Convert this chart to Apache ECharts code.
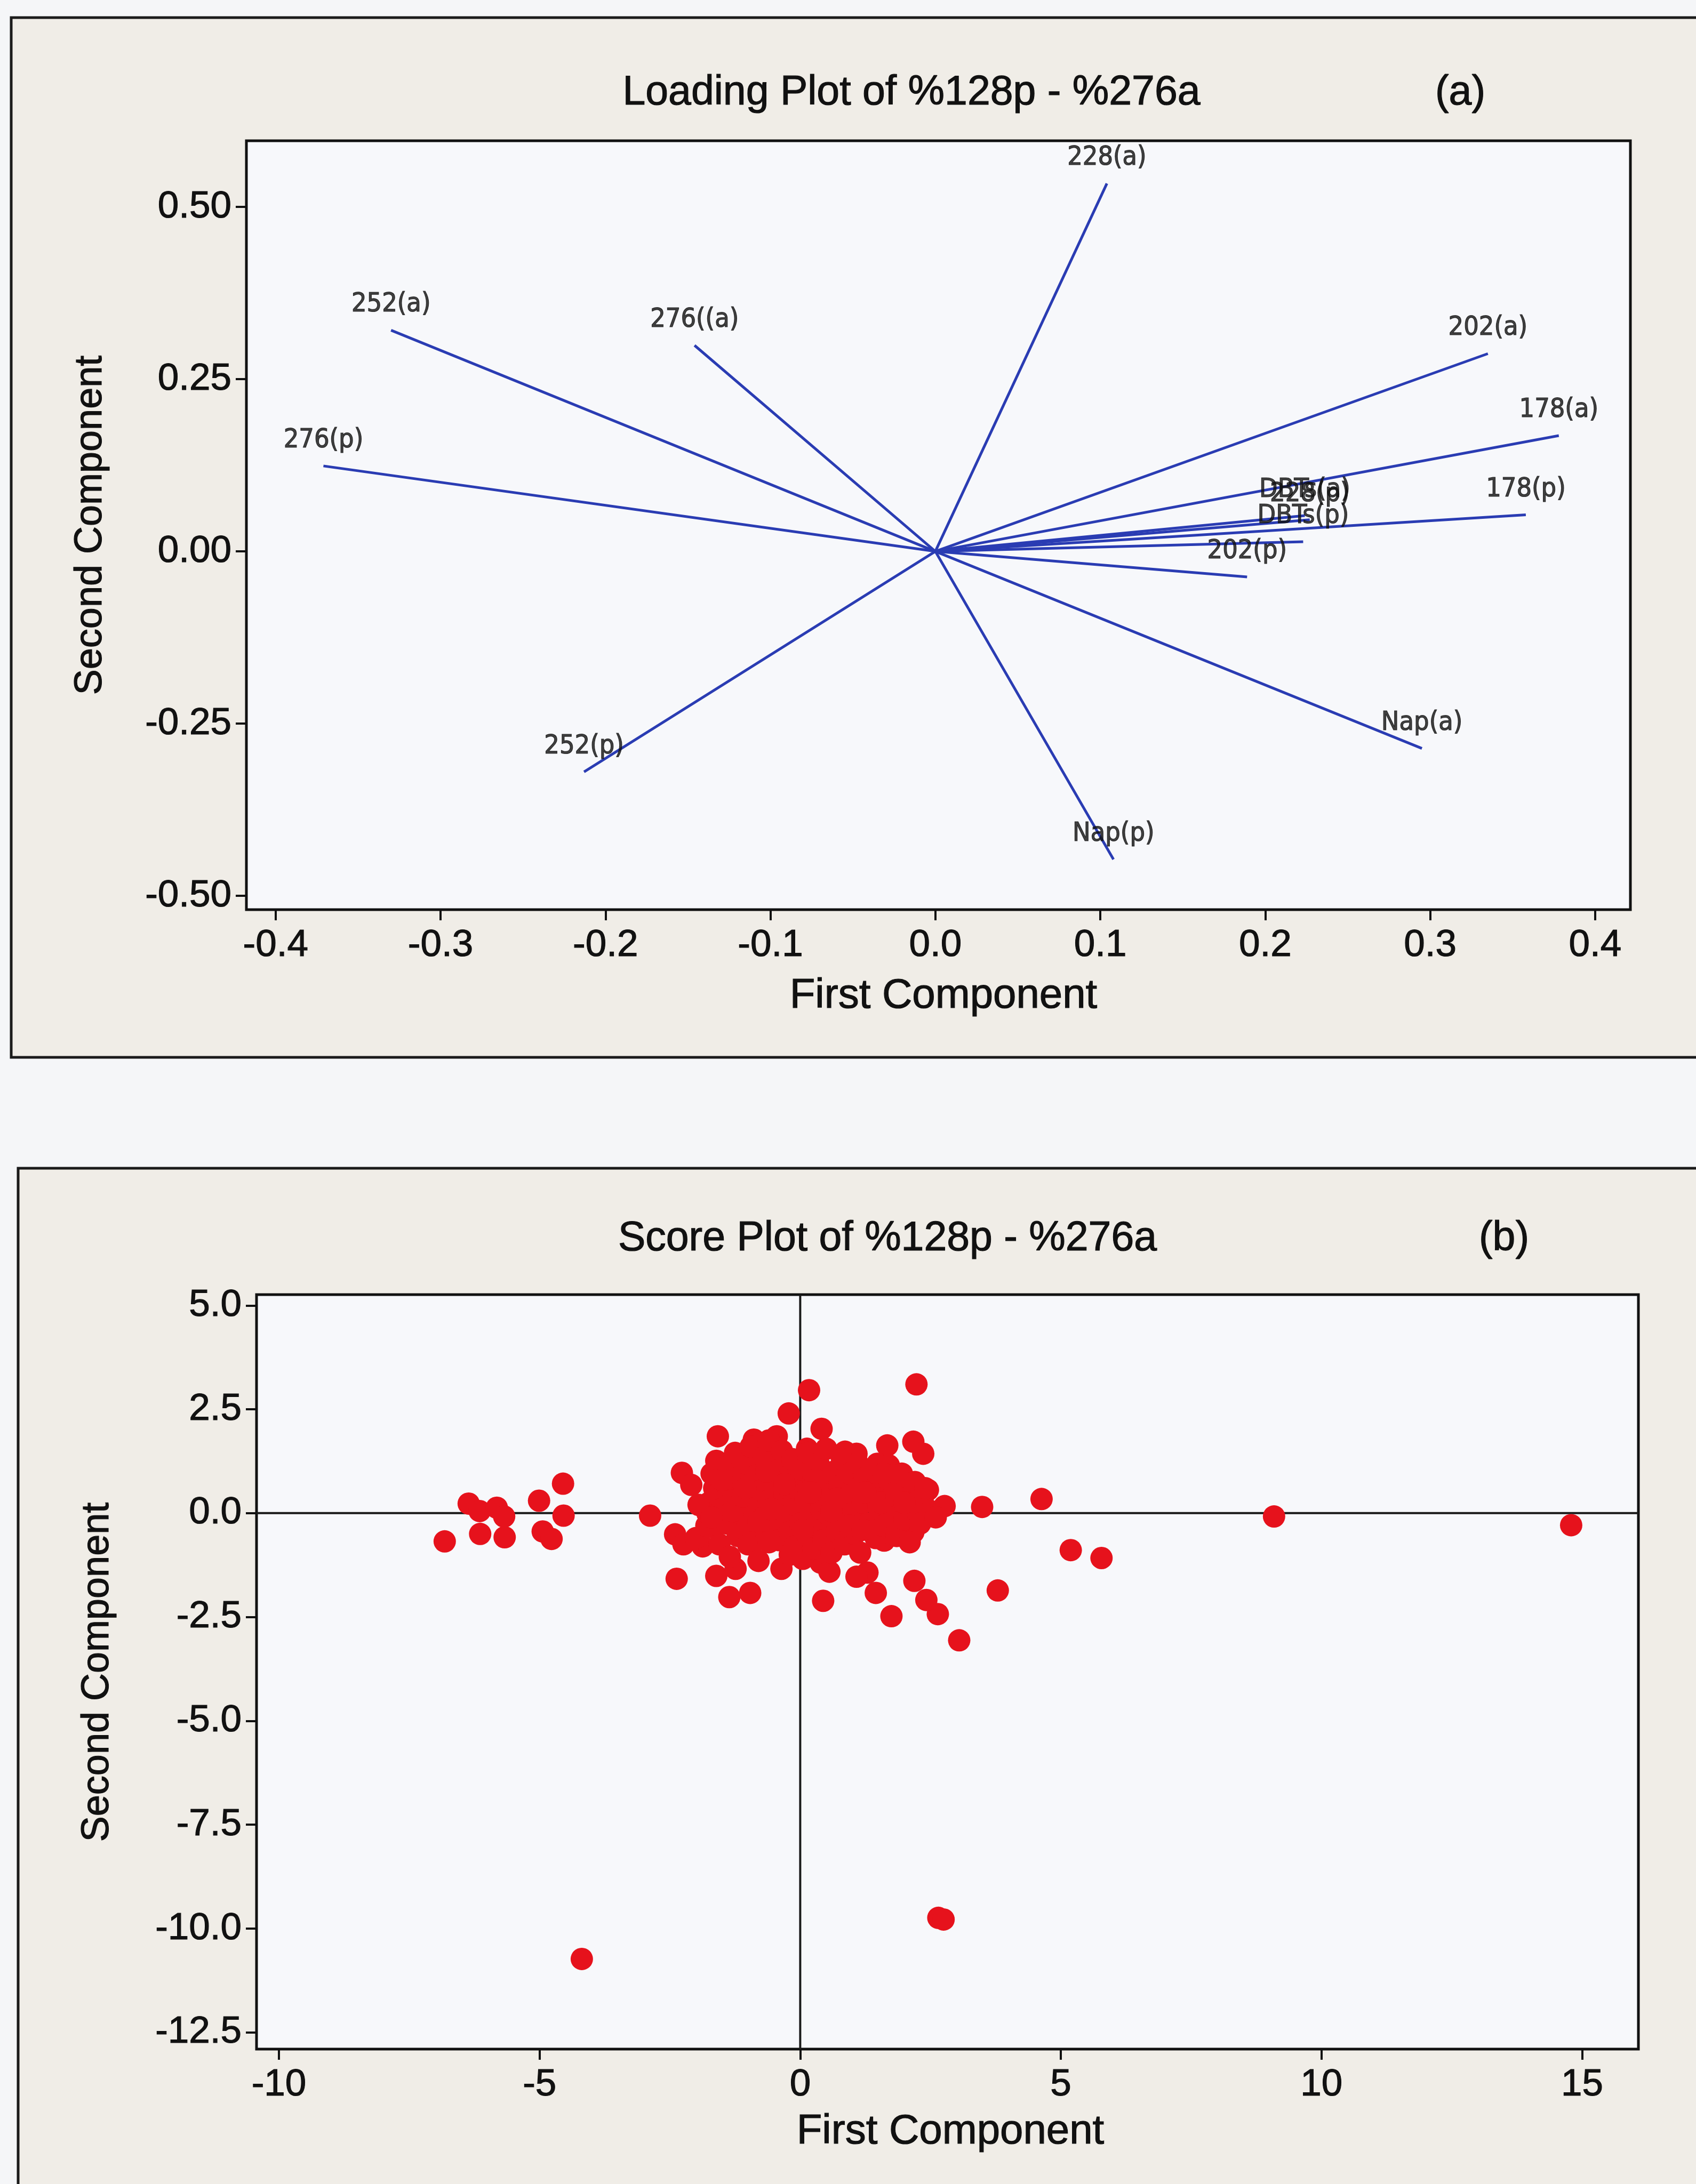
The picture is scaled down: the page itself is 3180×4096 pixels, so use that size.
<!DOCTYPE html>
<html>
<head>
<meta charset="utf-8">
<script src="https://cdn.jsdelivr.net/npm/echarts@6.0.0/dist/echarts.min.js"></script>
<style>
  html, body { margin: 0; padding: 0; background: #f5f6f8; }
  #chart { width: 3180px; height: 4096px; }
</style>
</head>
<body>
<div id="chart"></div>
<script>
// ---- Loading plot (a): PCA loadings of the PAH variables ----
const loadNames = ['Nap(p)', 'Nap(a)', '178(p)', '178(a)', '202(p)', '202(a)', '228(p)',
                   '228(a)', '252(p)', '252(a)', '276(p)', '276((a)', 'DBTs(p)', 'DBTs(a)'];
const loadPC1 = [0.108, 0.295, 0.358, 0.378, 0.189, 0.335, 0.227,
                 0.104, -0.213, -0.330, -0.371, -0.146, 0.223, 0.224];
const loadPC2 = [-0.447, -0.286, 0.053, 0.168, -0.037, 0.287, 0.046,
                 0.534, -0.320, 0.321, 0.124, 0.299, 0.014, 0.052];
const loadTicksX = [-0.4, -0.3, -0.2, -0.1, 0.0, 0.1, 0.2, 0.3, 0.4];
const loadTicksY = [-0.5, -0.25, 0, 0.25, 0.5];

// ---- Score plot (b): sample scores on the first two components ----
const scorePC1 = [
  // far left group
  -6.82, -6.36, -6.15, -5.82, -5.68, -6.14, -5.67, -5.01, -4.55, -4.54, -4.94, -4.77,
  // isolated and outlying samples
  -4.19, 2.65, 2.75, 9.09, 14.79,
  // right-hand tail
  4.63, 3.49, 5.19, 5.78, 3.79, 3.05, 2.64, 2.42, 2.19, 1.75, 1.45, 1.29, 2.77, 2.45, 2.17, 1.61,
  2.23, 1.67, 2.17, 2.36, 1.48,
  // rim of the main cloud
  0.17, -0.22, 0.41, -1.58, -2.27, -2.09, -0.89, -0.45, -1.61, 0.13, 0.86, 1.08, -2.88, -2.40,
  -2.24, -2.37, -1.61, -1.36, -0.96, -1.24, -0.36, 0.39, 0.56, 0.44, 1.08, -1.58, -1.74, -1.87,
  // main cloud
  -2.00, -1.80, -1.78, -1.75, -1.65, -1.70, -1.65, -1.60, -1.55, -1.50, -1.45, -1.40, -1.40, -1.35,
  -1.30, -1.25, -1.20, -1.20, -1.15, -1.00, -1.05, -1.00, -1.00, -0.95, -0.90, -0.90, -0.85, -0.80,
  -0.75, -0.70, -0.70, -0.65, -0.60, -0.60, -0.60, -0.50, -0.50, -0.45, -0.40, -0.40, -0.35, -0.30,
  -0.20, -0.25, -0.20, -0.20, -0.15, -0.10, -0.10, -0.05, 0.00, 0.05, 0.05, 0.10, 0.15, 0.15,
  0.20, 0.25, 0.25, 0.30, 0.35, 0.35, 0.40, 0.45, 0.45, 0.50, 0.55, 0.55, 0.60, 0.65, 0.70, 0.70,
  0.75, 0.80, 0.85, 0.85, 0.90, 0.95, 1.00, 1.05, 1.10, 1.10, 1.15, 1.20, 1.25, 1.30, 1.35, 1.40,
  1.45, 1.50, 1.55, 1.60, 1.65, 1.70, 1.75, 1.80, 1.85, 1.90, 1.95, 2.00, 2.05, 2.10, 2.15, 2.20,
  2.30, 2.35, 2.50, 2.60,
  // further samples inside the cloud
  -1.95, -1.70, -1.30, -1.10, -0.80, -0.55, -0.25, 0.05, 0.30, 0.60, 0.95, 1.25, 1.55, 1.85, 2.40,
  -1.50, -1.05, -0.65, -0.30, 0.20, 0.70, 1.20, 1.60, 2.00
];
const scorePC2 = [
  -0.68, 0.23, 0.05, 0.13, -0.08, -0.50, -0.58, 0.30, 0.71, -0.06, -0.44, -0.62,
  -10.73, -9.74, -9.78, -0.08, -0.29,
  0.34, 0.15, -0.89, -1.08, -1.86, -3.06, -2.43, -2.09, -1.63, -2.48, -1.92, -1.43, 0.17, 0.56, -0.46, -0.66,
  3.10, 1.63, 1.72, 1.43, 1.19,
  2.96, 2.40, 2.03, 1.85, 0.97, 0.68, 1.77, 1.85, 1.26, 1.55, 1.48, 1.43, -0.06, -0.51,
  -0.75, -1.58, -1.51, -2.02, -1.92, -1.34, -1.34, -1.19, -1.41, -2.11, -1.53, 0.70, -0.17, -0.80,
  -0.60, -0.30, 0.00, 0.25, 0.60, 0.95, -0.35, 0.45, -0.75, 0.10, 1.10, -0.25, 0.65, -1.05,
  0.30, 1.45, -0.55, 0.85, 0.00, -0.75, 1.20, 0.45, -0.30, 1.60, 0.15, -0.70, 0.90, -1.15,
  0.55, -0.10, 1.35, -0.50, 0.30, 1.75, -0.70, 0.75, -0.25, 1.10, 0.10, -0.65, 1.50, 0.45,
  -1.00, -0.10, 0.90, -0.45, 1.30, 0.20, -0.80, 0.60, -0.25, 1.05, -1.10, 0.35, -0.55, 1.45,
  0.00, 0.80, -0.85, 0.45, -0.30, 1.20, 0.10, -0.65, 0.75, 1.55, -0.05, 0.40, -0.95, 1.00, 0.20, -0.45,
  0.65, 1.30, -0.20, -0.75, 0.40, 0.95, 0.00, -0.50, 0.60, 1.20, -0.95, 0.25, 0.85, -0.25, 0.50, 1.05,
  -0.60, 0.15, 0.75, -0.30, 0.40, 1.15, -0.10, 0.65, -0.55, 0.30, 0.95, -0.15, 0.50, -0.70, 0.15, 0.75,
  -0.25, 0.35, 0.05, -0.10,
  0.20, -0.10, 0.05, 0.40, -0.20, 0.10, 0.60, -0.40, 0.80, 0.05, -0.30, 0.50, 0.25, 0.40, 0.60,
  0.80, 0.60, 1.00, 0.70, 0.50, 0.35, -0.40, 0.95, 0.25
];
const scoreTicksX = [-10, -5, 0, 5, 10, 15];
const scoreTicksY = [-12.5, -10, -7.5, -5, -2.5, 0, 2.5, 5];

// ---- shared styling ----
const INK = '#111111';
const SANS = '"Liberation Sans", Arial, sans-serif';
const VEC_BLUE = '#2a3cb3';
const DOT_RED = '#e6121c';

const loadRange = { xMin: -0.4177, xMax: 0.4214, yMin: -0.52, yMax: 0.596 };
const scoreRange = { xMin: -10.43, xMax: 16.08, yMin: -12.9, yMax: 5.26 };

function valueAxis(grid, range, ticks, fmt, isX) {
  return {
    type: 'value',
    gridIndex: grid,
    min: isX ? range.xMin : range.yMin,
    max: isX ? range.xMax : range.yMax,
    axisLine: { show: false, onZero: false },
    splitLine: { show: false },
    axisTick: {
      show: true, inside: false, length: 20,
      customValues: ticks,
      lineStyle: { color: INK, width: 4 }
    },
    axisLabel: {
      show: true, customValues: ticks, margin: isX ? 32 : 28,
      formatter: fmt,
      color: INK, fontFamily: SANS, fontSize: 71,
      textBorderColor: INK, textBorderWidth: 1.2
    }
  };
}

// plain text drawn with a slightly heavier stroke
function label(text, x, y, size, rotate) {
  return {
    type: 'text', x: x, y: y, rotation: rotate ? Math.PI / 2 : 0,
    style: {
      text: text, align: 'center', verticalAlign: 'middle',
      fill: INK, stroke: INK, lineWidth: 1.2, font: size + 'px ' + SANS
    }
  };
}

const vectorLines = loadNames.map((n, i) => ({
  name: n,
  coords: [[0, 0], [loadPC1[i], loadPC2[i]]]
}));
const vectorEnds = loadNames.map((n, i) => ({ name: n, value: [loadPC1[i], loadPC2[i]] }));
const scorePoints = scorePC1.map((x, i) => [x, scorePC2[i]]);

const option = {
  animation: false,
  backgroundColor: 'transparent',
  graphic: [
    // panel frames
    { type: 'rect', z: -10, shape: { x: 21, y: 33, width: 3200, height: 1950 },
      style: { fill: '#f0ede7', stroke: '#1b1b1b', lineWidth: 5 } },
    { type: 'rect', z: -10, shape: { x: 34, y: 2191, width: 3200, height: 2000 },
      style: { fill: '#f0ede7', stroke: '#1b1b1b', lineWidth: 5 } },
    // titles
    label('Loading Plot of %128p - %276a', 1709, 175, 77),
    label('(a)', 2738, 175, 77),
    label('Score Plot of %128p - %276a', 1664, 2324, 77),
    label('(b)', 2820, 2324, 77),
    // axis titles
    label('First Component', 1769, 1868, 78),
    label('Second Component', 170, 985, 72, true),
    label('First Component', 1782, 3998, 78),
    label('Second Component', 183, 3136, 72, true)
  ],
  grid: [
    { left: 462, top: 264, width: 2595, height: 1442, show: true,
      backgroundColor: '#f7f8fb', borderColor: INK, borderWidth: 5 },
    { left: 481, top: 2428, width: 2591, height: 1415, show: true,
      backgroundColor: '#f7f8fb', borderColor: INK, borderWidth: 5 }
  ],
  xAxis: [
    valueAxis(0, loadRange, loadTicksX, v => v.toFixed(1), true),
    valueAxis(1, scoreRange, scoreTicksX, v => String(Math.round(v)), true)
  ],
  yAxis: [
    valueAxis(0, loadRange, loadTicksY, v => v.toFixed(2), false),
    valueAxis(1, scoreRange, scoreTicksY, v => v.toFixed(1), false)
  ],
  series: [
    {
      type: 'lines', coordinateSystem: 'cartesian2d', xAxisIndex: 0, yAxisIndex: 0,
      polyline: false, silent: true, z: 2,
      lineStyle: { color: VEC_BLUE, width: 5, opacity: 1 },
      data: vectorLines
    },
    {
      type: 'scatter', xAxisIndex: 0, yAxisIndex: 0, symbolSize: 2, silent: true, z: 3,
      itemStyle: { color: 'rgba(0,0,0,0)' },
      label: {
        show: true, position: 'top', distance: 22,
        formatter: p => p.name,
        color: INK, fontFamily: '"DejaVu Sans Condensed", "DejaVu Sans", sans-serif', fontSize: 50,
        textBorderColor: INK, textBorderWidth: 1.2
      },
      data: vectorEnds
    },
    // reference lines through the origin of the score plot
    {
      type: 'line', xAxisIndex: 1, yAxisIndex: 1, symbol: 'none', silent: true, z: 1,
      lineStyle: { color: '#1a1a1a', width: 4 },
      data: [[0, scoreRange.yMin], [0, scoreRange.yMax]]
    },
    {
      type: 'line', xAxisIndex: 1, yAxisIndex: 1, symbol: 'none', silent: true, z: 1,
      lineStyle: { color: '#1a1a1a', width: 4 },
      data: [[scoreRange.xMin, 0], [scoreRange.xMax, 0]]
    },
    {
      type: 'scatter', xAxisIndex: 1, yAxisIndex: 1, symbol: 'circle', symbolSize: 42, z: 3,
      itemStyle: { color: DOT_RED, opacity: 1 },
      data: scorePoints
    }
  ]
};

const chart = echarts.init(document.getElementById('chart'), null, { renderer: 'canvas' });
chart.setOption(option);
</script>
</body>
</html>
